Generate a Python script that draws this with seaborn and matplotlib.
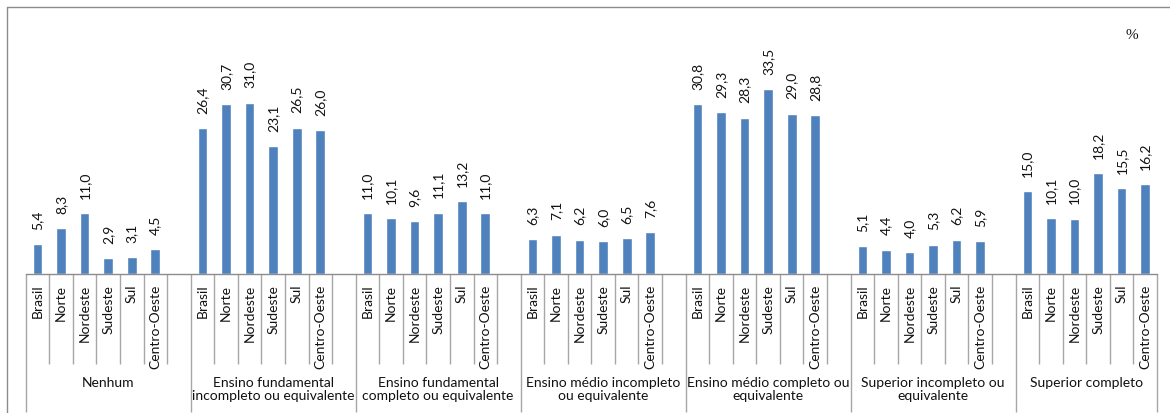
import matplotlib
matplotlib.use("Agg")
import matplotlib.pyplot as plt
from matplotlib.lines import Line2D
import seaborn as sns
import pandas as pd

groups = ["Nenhum",
          "Ensino fundamental\nincompleto ou equivalente",
          "Ensino fundamental\ncompleto ou equivalente",
          "Ensino médio incompleto\nou equivalente",
          "Ensino médio completo ou\nequivalente",
          "Superior incompleto ou\nequivalente",
          "Superior completo"]
regions = ["Brasil", "Norte", "Nordeste", "Sudeste", "Sul", "Centro-Oeste"]

nenhum = [5.4, 8.3, 11.0, 2.9, 3.1, 4.5]
fund_incompleto = [26.4, 30.7, 31.0, 23.1, 26.5, 26.0]
fund_completo = [11.0, 10.1, 9.6, 11.1, 13.2, 11.0]
medio_incompleto = [6.3, 7.1, 6.2, 6.0, 6.5, 7.6]
medio_completo = [30.8, 29.3, 28.3, 33.5, 29.0, 28.8]
sup_incompleto = [5.1, 4.4, 4.0, 5.3, 6.2, 5.9]
sup_completo = [15.0, 10.1, 10.0, 18.2, 15.5, 16.2]

series = [nenhum, fund_incompleto, fund_completo, medio_incompleto,
          medio_completo, sup_incompleto, sup_completo]

SLOTS = 7  # 6 regions + 1 gap slot per group
rows = []
for g, vals in enumerate(series):
    for r, v in enumerate(vals):
        rows.append({"pos": g * SLOTS + r, "group": groups[g],
                     "region": regions[r], "value": v})
df = pd.DataFrame(rows)

sns.set_theme(style="white")
plt.rcParams["font.family"] = ["Lato", "DejaVu Sans"]

W, H = 1170, 414
fig = plt.figure(figsize=(W / 100, H / 100), dpi=100)

x0, x1 = 25.7, 1157.0
base_y, top_y = 275.0, 54.0
ax = fig.add_axes([x0 / W, (H - base_y) / H, (x1 - x0) / W, (base_y - top_y) / H])

sns.barplot(data=df, x="pos", y="value", native_scale=True, width=0.41,
            color="#4F81BD", saturation=1, ax=ax, errorbar=None)

nslots = len(series) * SLOTS - 1
ax.set_xlim(-0.5, nslots - 0.5)
ax.set_ylim(0, 40)

labels = [f"{v:.1f}".replace(".", ",") for v in df["value"]]
ax.bar_label(ax.containers[0], labels=labels, rotation=90, padding=11,
             fontsize=10, color="#111111")

ax.set_xticks(df["pos"])
ax.set_xticklabels(df["region"], rotation=90, fontsize=10, color="#111111",
                   va="top")
ax.tick_params(axis="x", length=0, pad=7)
ax.set_yticks([])
ax.set_xlabel("")
ax.set_ylabel("")
for s in ["top", "left", "right"]:
    ax.spines[s].set_visible(False)
ax.spines["bottom"].set_color("#8c8c8c")
ax.spines["bottom"].set_linewidth(1.0)

ah = base_y - top_y
short_y = -(365 - base_y) / ah
long_y = -(413 - base_y) / ah
trans = ax.get_xaxis_transform()
group_edges = [g * SLOTS for g in range(len(series))] + [nslots]
for k in range(nslots + 1):
    ymin = long_y if k in group_edges else short_y
    ax.vlines(k - 0.5, ymin, 0, transform=trans, colors="#a6a6a6",
              linewidth=1.0, clip_on=False)

for g, name in enumerate(groups):
    start = g * SLOTS - 0.5
    end = min(g * SLOTS + SLOTS, nslots) - 0.5
    ax.annotate(name, xy=((start + end) / 2, 0), xycoords=trans,
                xytext=(0, -(377 - base_y) * 0.72), textcoords="offset points",
                ha="center", va="top", fontsize=10, color="#111111",
                linespacing=1.15, annotation_clip=False)

fig.text(1132 / W, 1 - 36 / H, "%", ha="center", va="center", fontsize=11,
         family=["Liberation Serif", "DejaVu Serif"], color="#111111")

# chart area border (top and left visible)
fig.add_artist(Line2D([7 / W, 1.0], [1 - 8 / H, 1 - 8 / H], color="#8c8c8c",
                      linewidth=1.0, transform=fig.transFigure))
fig.add_artist(Line2D([7 / W, 7 / W], [0, 1 - 8 / H], color="#8c8c8c",
                      linewidth=1.0, transform=fig.transFigure))

fig.savefig("out.png", dpi=100, facecolor="white")
